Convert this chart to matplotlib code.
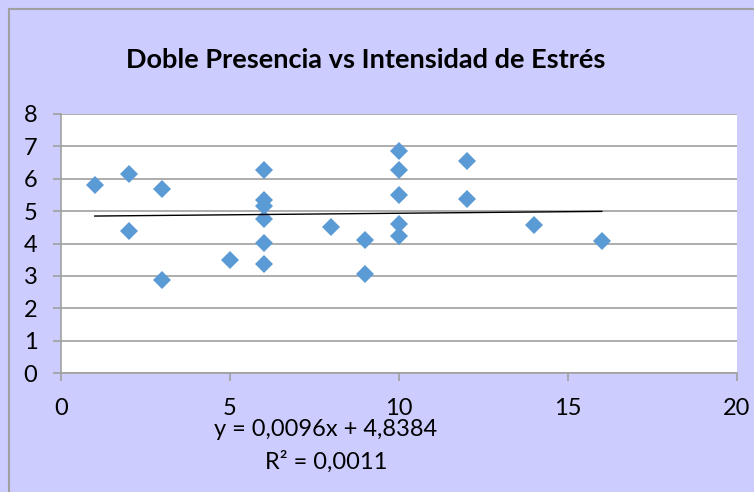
import matplotlib
matplotlib.use("Agg")
import matplotlib.pyplot as plt
from matplotlib.patches import Rectangle

# Doble Presencia (x) vs Intensidad de Estrés (y)
doble_presencia = [1, 2, 2, 3, 3, 5, 6, 6, 6, 6, 6, 6, 8, 9, 9,
                   10, 10, 10, 10, 10, 12, 12, 14, 16]
intensidad_estres = [5.82, 6.14, 4.38, 5.68, 2.86, 3.48, 6.28, 5.35, 5.15, 4.77, 4.02, 3.38, 4.50, 4.10, 3.05,
                     6.86, 6.26, 5.51, 4.60, 4.22, 6.55, 5.37, 4.58, 4.09]
slope, intercept = 0.0096, 4.8384
eq_label = "y = 0,0096x + 4,8384"
r2_label = "R² = 0,0011"
title = "Doble Presencia vs Intensidad de Estrés"

plt.rcParams["font.family"] = ["Lato", "DejaVu Sans"]

fig = plt.figure(figsize=(7.54, 4.92), dpi=100)
fig.patch.set_facecolor("#CCCCFF")
# outer chart border (only top/left visible)
fig.patches.append(Rectangle((9 / 754, -0.1), 1.2, 1 - 9 / 492 + 0.1, transform=fig.transFigure,
                             facecolor="none", edgecolor="#A0A0A0", lw=1.5))

ax = fig.add_axes([61 / 754, 1 - 373 / 492, 676 / 754, 259 / 492])
ax.set_facecolor("white")

ax.plot(doble_presencia, intensidad_estres, linestyle="none", marker="D", ms=9.5,
        color="#5B9BD5", markeredgewidth=0, zorder=3)
xs = [min(doble_presencia), max(doble_presencia)]
ax.plot(xs, [slope * v + intercept for v in xs], color="black", lw=1.0, zorder=4)

ax.set_xlim(0, 20)
ax.set_ylim(0, 8)
ax.set_xticks(range(0, 21, 5))
ax.set_yticks(range(0, 9))
ax.yaxis.grid(True, color="#A0A0A0", lw=1.2)
ax.set_axisbelow(True)
for s in ("top", "right"):
    ax.spines[s].set_visible(False)
for s in ("left", "bottom"):
    ax.spines[s].set_color("#A0A0A0")
    ax.spines[s].set_linewidth(1.2)
ax.tick_params(axis="both", direction="out", length=6, width=1.2, color="#A0A0A0",
               labelsize=17, labelcolor="black")
ax.tick_params(axis="y", pad=11)
ax.tick_params(axis="x", pad=12)

fig.text(366 / 754, 1 - 60 / 492, title, ha="center", va="center", fontsize=19.5, fontweight="bold")
fig.text(326 / 754, 1 - 430 / 492, eq_label, ha="center", va="center", fontsize=17)
fig.text(326 / 754, 1 - 462 / 492, r2_label, ha="center", va="center", fontsize=17)

fig.savefig("out.png", dpi=100, facecolor=fig.get_facecolor())
